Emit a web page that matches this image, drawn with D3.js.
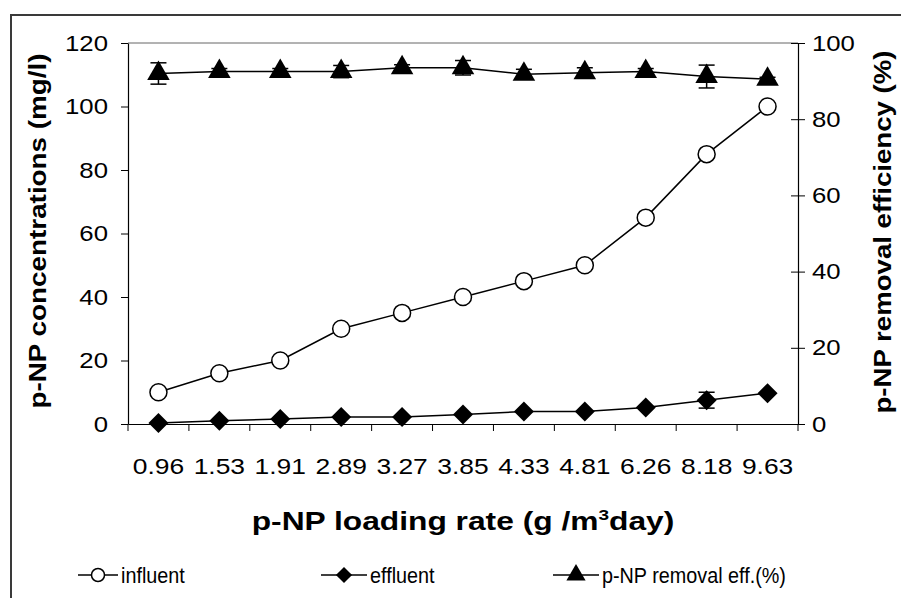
<!DOCTYPE html>
<html>
<head>
<meta charset="utf-8">
<script src="https://cdn.jsdelivr.net/npm/d3@7"></script>
<style>
body { margin: 0; background: #fff; }
svg { display: block; }
svg text { font-family: "Liberation Sans", Arial, sans-serif; fill: #000; }
</style>
</head>
<body>
<div id="container"></div>
<script>
let w = 901;
let h = 598;

// data
let rates = ['0.96', '1.53', '1.91', '2.89', '3.27', '3.85', '4.33', '4.81', '6.26', '8.18', '9.63'];
let influent = [10, 16, 20, 30, 35, 40, 45, 50, 65, 85, 100];
let effluent = [0.3, 1, 1.6, 2.2, 2.2, 3, 3.9, 3.9, 5.2, 7.5, 9.7];
let effluentErr = [0, 0, 0, 0, 0, 0, 0, 0, 0, 2.5, 0];
let removal = [92, 92.5, 92.5, 92.5, 93.5, 93.5, 91.8, 92.2, 92.5, 91.2, 90.5];
let removalErr = [2.8, 0.8, 0.8, 1.6, 0.8, 1.9, 1.3, 1.3, 0.8, 3.0, 0.5];
let leftTicks = [0, 20, 40, 60, 80, 100, 120];
let rightTicks = [0, 20, 40, 60, 80, 100];

let viz = d3.select('#container').append('svg')
    .attr('width', w)
    .attr('height', h);

// outer frame (runs off the right and bottom edge)
viz.append('rect')
    .attr('x', 11).attr('y', 15)
    .attr('width', 1000).attr('height', 1000)
    .attr('fill', 'none')
    .attr('stroke', '#3a3a3a')
    .attr('stroke-width', 2);

let x = d3.scaleBand().domain(rates).range([128, 798]);
let yL = d3.scaleLinear().domain([0, 120]).range([424, 43]);
let yR = d3.scaleLinear().domain([0, 100]).range([424, 43]);
let cx = (d, i) => x(rates[i]) + x.bandwidth() / 2;

// plot area top border
viz.append('line')
    .attr('x1', 128).attr('x2', 798)
    .attr('y1', 43).attr('y2', 43)
    .attr('stroke', '#666')
    .attr('stroke-width', 1);

// left axis
let leftAxis = viz.append('g')
    .attr('transform', 'translate(128,0)')
    .call(d3.axisLeft(yL).tickValues(leftTicks).tickSize(7).tickSizeOuter(0));
leftAxis.selectAll('.tick text')
    .attr('x', 0)
    .attr('transform', 'translate(-20,0) scale(1.17,1)');

// right axis, ticks cross the line
let rightAxis = viz.append('g')
    .attr('transform', 'translate(798,0)')
    .call(d3.axisRight(yR).tickValues(rightTicks).tickSize(7).tickSizeOuter(0));
rightAxis.selectAll('.tick line').attr('x1', -7);
rightAxis.selectAll('.tick text')
    .attr('x', 0)
    .attr('transform', 'translate(14,0) scale(1.17,1)');

// bottom axis: labels at band centres, ticks on band edges
let bottomAxis = viz.append('g')
    .attr('transform', 'translate(0,424)')
    .call(d3.axisBottom(x).tickSize(0).tickSizeOuter(0));
bottomAxis.selectAll('.tick text')
    .attr('y', 0).attr('dy', 50)
    .attr('transform', 'scale(1.2,1)');
bottomAxis.selectAll('.edge')
    .data(d3.range(rates.length + 1))
    .enter().append('line')
    .attr('x1', d => x.range()[0] + d * x.step())
    .attr('x2', d => x.range()[0] + d * x.step())
    .attr('y1', 0).attr('y2', 7)
    .attr('stroke', '#000');

[leftAxis, rightAxis, bottomAxis].forEach(a => {
    a.attr('font-family', null);
    a.select('.domain').attr('stroke', '#000').attr('stroke-width', 1.2);
    a.selectAll('.tick line').attr('stroke', '#000');
    a.selectAll('.tick text')
        .attr('fill', '#000')
        .attr('font-size', '22px');
});

// axis titles
viz.append('text')
    .text('p-NP concentrations (mg/l)')
    .attr('transform', 'translate(46,231) rotate(-90) scale(1.16,1)')
    .attr('text-anchor', 'middle')
    .attr('font-weight', 'bold')
    .attr('font-size', '24px');

viz.append('text')
    .text('p-NP removal efficiency (%)')
    .attr('transform', 'translate(891,232) rotate(-90) scale(1.15,1)')
    .attr('text-anchor', 'middle')
    .attr('font-weight', 'bold')
    .attr('font-size', '24px');

let xTitle = viz.append('text')
    .attr('transform', 'translate(463,530) scale(1.27,1)')
    .attr('text-anchor', 'middle')
    .attr('font-weight', 'bold')
    .attr('font-size', '25px');
xTitle.append('tspan').text('p-NP loading rate (g /m');
xTitle.append('tspan').text('3').attr('font-size', '15px').attr('dy', -10);
xTitle.append('tspan').text('day)').attr('dy', 10);

// error bars
function errorBars(vals, errs, y) {
    let g = viz.append('g').attr('stroke', '#000').attr('stroke-width', 1.5);
    vals.forEach((v, i) => {
        if (!errs[i]) return;
        let xc = cx(v, i);
        g.append('line').attr('x1', xc).attr('x2', xc).attr('y1', y(v - errs[i])).attr('y2', y(v + errs[i]));
        g.append('line').attr('x1', xc - 8).attr('x2', xc + 8).attr('y1', y(v + errs[i])).attr('y2', y(v + errs[i]));
        g.append('line').attr('x1', xc - 8).attr('x2', xc + 8).attr('y1', y(v - errs[i])).attr('y2', y(v - errs[i]));
    });
}

function series(vals, y) {
    viz.append('path')
        .datum(vals)
        .attr('fill', 'none')
        .attr('stroke', '#000')
        .attr('stroke-width', 1.5)
        .attr('d', d3.line().x(cx).y(d => y(d)));
}

series(removal, yR);
errorBars(removal, removalErr, yR);
viz.selectAll('.tri')
    .data(removal)
    .enter().append('path')
    .attr('d', d3.symbol(d3.symbolTriangle, 220))
    .attr('transform', (d, i) => 'translate(' + cx(d, i) + ',' + yR(d) + ')')
    .attr('fill', '#000');

series(influent, yL);
viz.selectAll('.circ')
    .data(influent)
    .enter().append('circle')
    .attr('cx', cx)
    .attr('cy', d => yL(d))
    .attr('r', 8.5)
    .attr('fill', '#fff')
    .attr('stroke', '#000')
    .attr('stroke-width', 1.5);

series(effluent, yL);
errorBars(effluent, effluentErr, yL);
viz.selectAll('.dia')
    .data(effluent)
    .enter().append('path')
    .attr('d', d3.symbol(d3.symbolSquare, 200))
    .attr('transform', (d, i) => 'translate(' + cx(d, i) + ',' + yL(d) + ') rotate(45)')
    .attr('fill', '#000');

// legend
let legend = [
    {name: 'influent', x: 78, len: 40, sym: 'circle'},
    {name: 'effluent', x: 321, len: 46, sym: 'diamond'},
    {name: 'p-NP removal eff.(%)', x: 553, len: 46, sym: 'triangle'}
];
let ly = 575;
legend.forEach(l => {
    let g = viz.append('g').attr('transform', 'translate(' + l.x + ',' + ly + ')');
    g.append('line').attr('x1', 0).attr('x2', l.len).attr('stroke', '#000').attr('stroke-width', 1.5);
    if (l.sym === 'circle') {
        g.append('circle').attr('cx', l.len / 2).attr('r', 6.5).attr('fill', '#fff').attr('stroke', '#000').attr('stroke-width', 1.5);
    } else if (l.sym === 'diamond') {
        g.append('path').attr('d', d3.symbol(d3.symbolSquare, 130)).attr('transform', 'translate(' + l.len / 2 + ',0) rotate(45)');
    } else {
        g.append('path').attr('d', d3.symbol(d3.symbolTriangle, 160)).attr('transform', 'translate(' + l.len / 2 + ',0)');
    }
    g.append('text').text(l.name)
        .attr('transform', 'translate(' + (l.len + 3) + ',8) scale(0.9,1)')
        .attr('font-size', '22px');
});
</script>
</body>
</html>
